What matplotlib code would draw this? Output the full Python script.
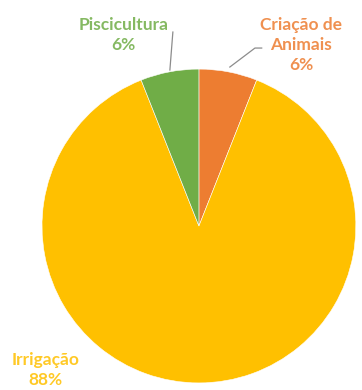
import matplotlib.pyplot as plt

# Uso da água por setor
setores = ['Criação de\nAnimais', 'Irrigação', 'Piscicultura']
valores = [6, 88, 6]
cores = ['#ED7D31', '#FFC000', '#70AD47']

plt.rcParams['font.family'] = ['Lato', 'DejaVu Sans']

fig = plt.figure(figsize=(3.62, 3.90), dpi=100)
ax = fig.add_axes([0.116, 0.018, 0.867, 0.805])

ax.pie(valores, colors=cores, startangle=90, counterclock=False,
       wedgeprops=dict(linewidth=0.4, edgecolor='white'))
ax.set_xlim(-1, 1)
ax.set_ylim(-1, 1)
ax.set_aspect('equal')

rotulos = [f'{s}\n{v}%' for s, v in zip(setores, valores)]
estilo = dict(fontsize=12.5, fontweight='bold', ha='center', va='center',
              linespacing=1.3, clip_on=False)

# Criação de Animais
ax.text(0.65, 1.153, rotulos[0], color=cores[0], alpha=0.85, **estilo)
ax.plot([0.197, 0.357, 0.40], [1.013, 1.134, 1.134], color='#8c8c8c', lw=0.9, clip_on=False)

# Piscicultura
ax.text(-0.481, 1.22, rotulos[2], color=cores[2], alpha=0.85, **estilo)
ax.plot([-0.166, -0.185], [1.236, 0.994], color='#8c8c8c', lw=0.9, clip_on=False)

# Irrigação
ax.text(-0.975, -0.917, rotulos[1], color=cores[1], alpha=0.85, **estilo)

fig.savefig('out.png', dpi=100)
